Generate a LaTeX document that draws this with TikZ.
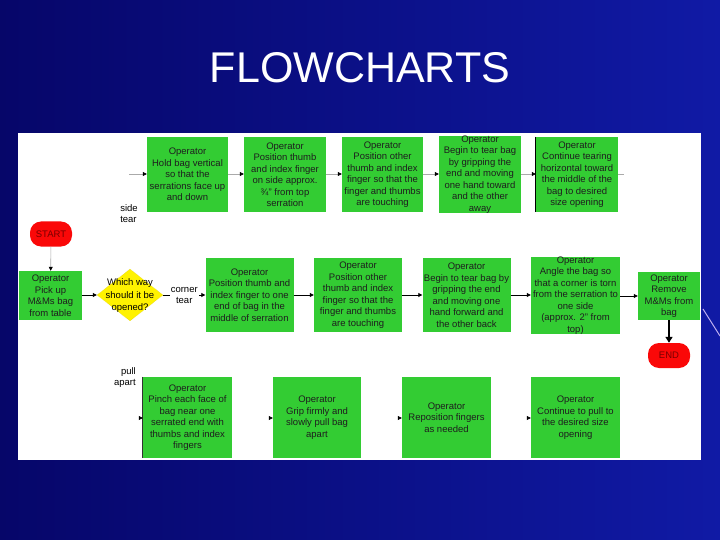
\documentclass[tikz,border=0pt]{standalone}
\usepackage{fontspec}
\setmainfont{Liberation Sans}
\usetikzlibrary{shapes.geometric,arrows.meta}
\definecolor{bgdark}{RGB}{6,6,105}
\definecolor{bglight}{RGB}{16,26,165}
\definecolor{boxgreen}{RGB}{51,204,51}
\definecolor{termred}{RGB}{250,8,8}
\definecolor{termtxt}{RGB}{120,0,0}
\definecolor{txt}{RGB}{30,30,30}
\definecolor{lgray}{RGB}{170,170,170}
\definecolor{streak}{RGB}{190,175,240}
\begin{document}
\begin{tikzpicture}[x=1pt,y=-1pt,
  opbox/.style={fill=boxgreen, draw=none, text=txt, font=\fontsize{9.5}{11.5}\selectfont,
    align=center, inner sep=0pt, minimum width=#1},
  opbox/.default=88pt,
  term/.style={fill=termred, draw=none, rounded corners=11pt, text=termtxt,
    font=\fontsize{9.5}{11.5}\selectfont, inner sep=0pt, minimum width=42pt, minimum height=25pt},
  lbl/.style={font=\fontsize{9.5}{11}\selectfont, align=center, inner sep=0pt, text=black},
  garrow/.style={draw=lgray, line width=0.6pt, -{Triangle[length=4pt,width=4pt,color=black,fill=black]}},
  barrow/.style={draw=black, line width=0.8pt, -{Triangle[length=4pt,width=4pt]}},
  warrow/.style={draw=white, line width=0.6pt, -{Triangle[length=4pt,width=4pt,color=black,fill=black]}}
]
\useasboundingbox (0,0) rectangle (720,540);
\fill[left color=bgdark, right color=bglight] (0,0) rectangle (720,540);
\draw[streak, line width=1pt] (703,309) -- (720,336);
% title
\node (title) [text=white, font=\fontsize{43}{46}\selectfont] at (360,68) {FLOWCHARTS};
% panel
\fill[white] (18,133) rectangle (701,460);

% top row
\node (b1) [opbox=81pt, minimum height=75pt] at (187.5,174.5) {Operator\\Hold bag vertical\\so that the\\serrations face up\\and down};
\node (b2) [opbox=82pt, minimum height=75pt] at (285,174.5) {Operator\\Position thumb\\and index finger\\on side approx.\\¾'' from top\\serration};
\node (b3) [opbox=81pt, minimum height=75pt] at (382.5,174.5) {Operator\\Position other\\thumb and index\\finger so that the\\finger and thumbs\\are touching};
\node (b4) [opbox=82pt, minimum height=75pt] at (480,174.5) {Operator\\Begin to tear bag\\by gripping the\\end and moving\\one hand toward\\and the other\\away};
\node (b5) [opbox=82pt, minimum height=75pt] at (577,174.5) {Operator\\Continue tearing\\horizontal toward\\the middle of the\\bag to desired\\size opening};
\draw[black, line width=0.8pt] (b5.north west) -- (b5.south west);
\coordinate (sidein) at (129,174);
\coordinate (b5out) at (624,174);
\node (side) [lbl, align=left] at (129,213.5) {side\\tear};

% middle row
\node (start) [term] at (51,234) {START};
\node (b6) [opbox=63pt, minimum height=49pt] at (50.5,295.5) {Operator\\Pick up\\M\&Ms bag\\from table};
\node (dia) [diamond, fill=yellow, draw=yellow!80!black, densely dotted, inner sep=0pt, minimum width=66pt, minimum height=52pt] at (130,295) {};
\node (diat) [lbl, font=\fontsize{9.5}{12.5}\selectfont] at (130,296) {Which way\\should it be\\opened?};
\node (b7) [opbox=88pt, minimum height=74pt] at (249.5,295) {Operator\\Position thumb and\\index finger to one\\end of bag in the\\middle of serration};
\node (b8) [opbox=88pt, minimum height=74pt] at (358,295) {Operator\\Position other\\thumb and index\\finger so that the\\finger and thumbs\\are touching};
\node (b9) [opbox=88pt, minimum height=74pt] at (466.5,295) {Operator\\Begin to tear bag by\\gripping the end\\and moving one\\hand forward and\\the other back};
\node (b10) [opbox=89pt, minimum height=75pt] at (575.5,295.5) {Operator\\Angle the bag so\\that a corner is torn\\from the serration to\\one side\\(approx. 2'' from\\top)};
\node (b11) [opbox=62pt, minimum height=48pt] at (669,296) {Operator\\Remove\\M\&Ms from\\bag};
\node (end) [term] at (669,355.5) {END};

% bottom row
\node (pull) [lbl, align=right, anchor=east] at (136,377.5) {pull\\apart};
\node (b12) [opbox=89pt, minimum height=81pt] at (187.5,417.5) {Operator\\Pinch each face of\\bag near one\\serrated end with\\thumbs and index\\fingers};
\draw[black!80, line width=0.8pt] (b12.north west) -- (b12.south west);
\node (b13) [opbox=88pt, minimum height=81pt] at (317,417.5) {Operator\\Grip firmly and\\slowly pull bag\\apart};
\node (b14) [opbox=89pt, minimum height=81pt] at (446.5,417.5) {Operator\\Reposition fingers\\as needed};
\node (b15) [opbox=89pt, minimum height=81pt] at (575.5,417.5) {Operator\\Continue to pull to\\the desired size\\opening};
\coordinate (pullin) at (134,418);

% connectors top row
\draw[garrow] (sidein) -- (b1.west |- sidein);
\draw[garrow] (b1.east |- sidein) -- (b2.west |- sidein);
\draw[garrow] (b2.east |- sidein) -- (b3.west |- sidein);
\draw[garrow] (b3.east |- sidein) -- (b4.west |- sidein);
\draw[garrow] (b4.east |- sidein) -- (b5.west |- sidein);
\draw[lgray, line width=0.6pt] (b5.east |- b5out) -- (b5out);

% connectors middle row
\draw[garrow] (start) -- (b6);
\draw[barrow] (b6.east |- dia) -- (dia.west);
\draw[barrow] (dia.east) -- node[lbl, fill=white, inner xsep=1pt] {corner\\tear} (b7.west |- dia);
\draw[barrow] (b7.east |- dia) -- (b8.west |- dia);
\draw[barrow] (b8.east |- dia) -- (b9.west |- dia);
\draw[barrow] (b9.east |- dia) -- (b10.west |- dia);
\draw[barrow] (b10.east |- b11) -- (b11.west);
\draw[black, line width=2pt, -{Triangle[length=6pt,width=7pt]}] (b11.south) -- (end.north);

% connectors bottom row
\draw[warrow] (pullin) -- (b12.west |- pullin);
\draw[warrow] (b12.east |- pullin) -- (b13.west |- pullin);
\draw[warrow] (b13.east |- pullin) -- (b14.west |- pullin);
\draw[warrow] (b14.east |- pullin) -- (b15.west |- pullin);
\end{tikzpicture}
\end{document}
